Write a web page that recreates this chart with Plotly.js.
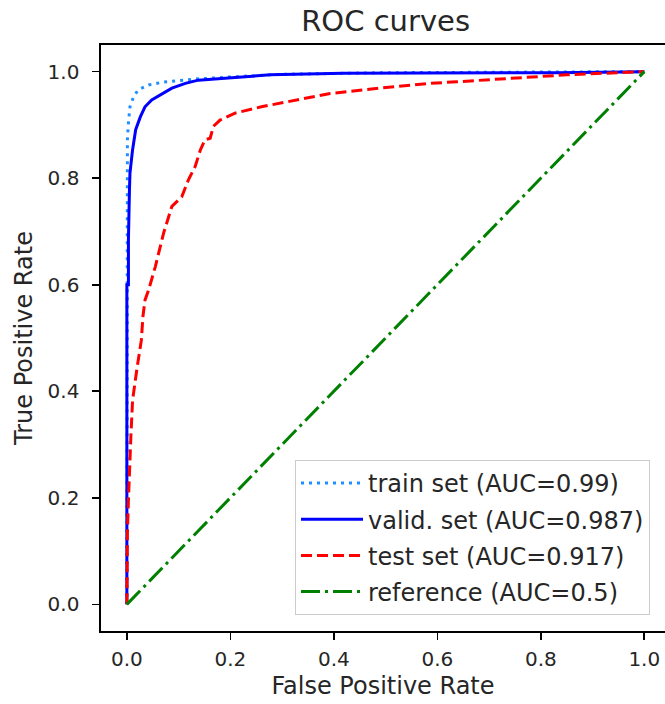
<!DOCTYPE html>
<html>
<head>
<meta charset="utf-8">
<script src="https://cdn.plot.ly/plotly-3.0.1.min.js"></script>
<style>
  html, body { margin: 0; padding: 0; background: #fff; overflow: hidden; }
  #chart { width: 665px; height: 704px; }
</style>
</head>
<body>
<div id="chart"></div>
<script>
// Series
const trainFPR = [0, 0, 0.001, 0.001, 0.003, 0.006, 0.013, 0.022, 0.042, 0.068, 0.099, 0.132, 0.2, 0.3, 0.5, 0.8, 1.0];
const trainTPR = [0, 0.6, 0.778, 0.872, 0.904, 0.934, 0.953, 0.966, 0.975, 0.980, 0.983, 0.986, 0.990, 0.995, 0.998, 0.999, 1.0];

const validFPR = [0, 0, 0.003, 0.003, 0.005, 0.006, 0.011, 0.017, 0.026, 0.035, 0.048, 0.068, 0.087, 0.113, 0.138, 0.196, 0.26, 0.277, 0.418, 0.68, 0.83, 1.0];
const validTPR = [0, 0.6, 0.6, 0.684, 0.778, 0.81, 0.853, 0.891, 0.915, 0.934, 0.947, 0.959, 0.969, 0.978, 0.984, 0.988, 0.992, 0.994, 0.997, 0.997, 0.998, 1.0];

const testFPR = [0, 0, 0.001, 0.003, 0.005, 0.008, 0.011, 0.015, 0.02, 0.028, 0.031, 0.035, 0.042, 0.055, 0.071, 0.087, 0.1, 0.106, 0.119, 0.132, 0.142, 0.151, 0.161, 0.167, 0.18, 0.209, 0.26, 0.312, 0.393, 0.489, 0.586, 0.638, 0.683, 0.753, 0.85, 0.947, 1.0];
const testTPR = [0, 0.008, 0.134, 0.196, 0.258, 0.321, 0.383, 0.415, 0.446, 0.496, 0.54, 0.571, 0.59, 0.634, 0.697, 0.747, 0.76, 0.765, 0.797, 0.822, 0.853, 0.872, 0.875, 0.897, 0.909, 0.922, 0.934, 0.944, 0.959, 0.969, 0.978, 0.981, 0.984, 0.988, 0.994, 0.998, 1.0];

const refFPR = [0, 1];
const refTPR = [0, 1];

const seriesNames = [
  'train set (AUC=0.99)',
  'valid. set (AUC=0.987)',
  'test set (AUC=0.917)',
  'reference (AUC=0.5)'
];
const tickVals = [0, 0.2, 0.4, 0.6, 0.8, 1.0];
const tickText = ['0.0', '0.2', '0.4', '0.6', '0.8', '1.0'];

const FONT = 'DejaVu Sans, sans-serif';

const traces = [
  {x: trainFPR, y: trainTPR, name: seriesNames[0], legendgroup: 'a',
   line: {color: '#1E90FF', width: 3, dash: '3px,5px'}},
  {x: validFPR, y: validTPR, name: seriesNames[1], legendgroup: 'b',
   line: {color: '#0000FF', width: 3}},
  {x: testFPR, y: testTPR, name: seriesNames[2], legendgroup: 'c',
   line: {color: '#FF0000', width: 3, dash: '11px,5px'}},
  {x: refFPR, y: refTPR, name: seriesNames[3], legendgroup: 'd',
   line: {color: '#008000', width: 3, dash: '19px,5px,3px,5px'}}
].map(t => Object.assign({type: 'scatter', mode: 'lines', hoverinfo: 'skip'}, t));

const axisCommon = {
  tickvals: tickVals, ticktext: tickText,
  ticks: 'outside', ticklen: 7, tickwidth: 1.6, tickcolor: '#000',
  showline: true, linecolor: '#000', linewidth: 1.6,
  showgrid: false, zeroline: false,
  tickfont: {family: FONT, size: 20, color: '#262626'},
};

const layout = {
  width: 665, height: 704,
  margin: {l: 101, r: 0, t: 45, b: 73},
  paper_bgcolor: '#fff', plot_bgcolor: '#fff',
  font: {family: FONT, color: '#262626'},
  title: {text: 'ROC curves', font: {family: FONT, size: 29, color: '#262626'},
          xref: 'paper', x: 0.5046, xanchor: 'center',
          yref: 'container', y: 1 - 21 / 704, yanchor: 'middle'},
  xaxis: Object.assign({}, axisCommon, {
    range: [-0.05, 1.040], mirror: true,
    title: {text: 'False Positive Rate', font: {family: FONT, size: 24, color: '#262626'}, standoff: 7},
    ticklabelstandoff: 2
  }),
  yaxis: Object.assign({}, axisCommon, {
    range: [-0.05, 1.05],
    title: {text: 'True Positive Rate', font: {family: FONT, size: 24, color: '#262626'}, standoff: 8},
    ticklabelstandoff: 9
  }),
  showlegend: true,
  legend: {
    x: 0.344, y: 0.292, xanchor: 'left', yanchor: 'top',
    bgcolor: 'rgba(255,255,255,0.8)', bordercolor: '#cccccc', borderwidth: 1,
    font: {family: FONT, size: 24, color: '#262626'},
    traceorder: 'grouped', tracegroupgap: 2, itemwidth: 62
  }
};

Plotly.newPlot('chart', traces, layout, {staticPlot: true, displayModeBar: false});
</script>
</body>
</html>
